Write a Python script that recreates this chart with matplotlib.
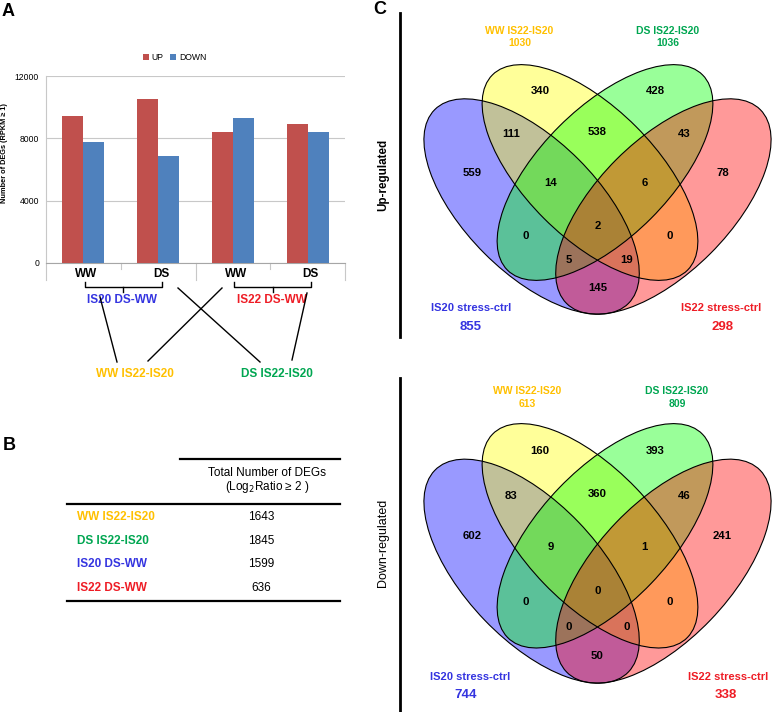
#Figure: DEG bar chart (A), DEG table (B) and up/down four-set Venn diagrams (C)
import numpy as np
import matplotlib
matplotlib.use("Agg")
import matplotlib.pyplot as plt
from matplotlib.patches import Ellipse
from matplotlib.transforms import blended_transform_factory

plt.rcParams['font.family'] = ['Liberation Sans', 'DejaVu Sans']

# ---- data ----
barLabels = ["WW", "DS", "WW", "DS"]
upDegs = [9450, 10500, 8400, 8950]
downDegs = [7750, 6850, 9300, 8400]
contrastNames = ["IS20 DS-WW", "IS22 DS-WW"]

tableNames = ["WW IS22-IS20", "DS IS22-IS20", "IS20 DS-WW", "IS22 DS-WW"]
tableValues = [1643, 1845, 1599, 636]

vennSets = ["IS20 stress-ctrl", "WW IS22-IS20", "DS IS22-IS20", "IS22 stress-ctrl"]
upTotals = [855, 1030, 1036, 298]
downTotals = [744, 613, 809, 338]
# region order: Y, G, BY, YG, GP, B, BYG, YGP, P, BYGP, BG, YP, BGP, BYP, BP
upRegions = [340, 428, 111, 538, 43, 559, 14, 6, 78, 2, 0, 0, 5, 19, 145]
downRegions = [160, 393, 83, 360, 46, 602, 9, 1, 241, 0, 0, 0, 0, 0, 50]

# ---- colours ----
RED = "#C0504D"
BLUE = "#4F81BD"
GOLD = "#FFC000"
GREEN = "#00A651"
NAVY = "#3434E0"
CRIMSON = "#EE1C25"
nameColors = {"WW IS22-IS20": GOLD, "DS IS22-IS20": GREEN,
              "IS20 DS-WW": NAVY, "IS22 DS-WW": CRIMSON,
              "IS20 stress-ctrl": NAVY, "IS22 stress-ctrl": CRIMSON}

W, H = 778, 712
fig = plt.figure(figsize=(W / 100, H / 100), dpi=100)


def box(x0, y0, x1, y1):
    """pixel box (top-left origin) -> figure fraction rect"""
    return [x0 / W, 1 - y1 / H, (x1 - x0) / W, (y1 - y0) / H]


# ---- panel A: bars ----
ax = fig.add_axes(box(46, 76, 345, 263))
x = np.arange(len(barLabels))
ax.bar(x - 0.14, upDegs, 0.28, color=RED, label="UP", zorder=3)
ax.bar(x + 0.14, downDegs, 0.28, color=BLUE, label="DOWN", zorder=3)
ax.set_xlim(-0.5, 3.5)
ax.set_ylim(0, 12000)
ax.set_yticks([0, 4000, 8000, 12000])
ax.yaxis.grid(True, color="#C8C8C8", lw=0.8)
ax.set_axisbelow(True)
ax.tick_params(axis='y', length=0, labelsize=6.2, pad=5)
ax.set_xticks([])
for s in ["top", "right"]:
    ax.spines[s].set_visible(False)
ax.spines["left"].set_color("#C8C8C8")
ax.spines["bottom"].set_color("#A6A6A6")
# y label sits a bit above the axes centre, as in the original
ax.text(-(46 - 4.5) / 299, (263 - 153.5) / 187, "Number of DEGs (RPKM ≥ 1)",
        transform=ax.transAxes, rotation=90, ha="center", va="center",
        fontsize=5.3, fontweight="bold")
ax.legend(loc="center", bbox_to_anchor=(0.43, 1.10), ncol=2, frameon=False,
          fontsize=6.2, handlelength=0.7, handleheight=0.7,
          handletextpad=0.3, columnspacing=0.8)

trans = blended_transform_factory(ax.transData, ax.transAxes)
for xb in [-0.5, 1.5, 3.5]:
    ax.plot([xb, xb], [0, -0.09], color="#C8C8C8", lw=0.8, transform=trans, clip_on=False)
for xb in [0.5, 2.5]:
    ax.plot([xb, xb], [0, -0.03], color="#C8C8C8", lw=0.8, transform=trans, clip_on=False)
for i, lab in enumerate(barLabels):
    ax.text(i + 0.04, -0.06, lab, transform=trans, ha="center", va="center",
            fontsize=8.5, fontweight="bold")
for g, name in zip([0, 2], contrastNames):
    ax.plot([g + 0.02, g + 0.02, g + 1.05, g + 1.05], [-0.10, -0.128, -0.128, -0.10],
            color="black", lw=1, transform=trans, clip_on=False)
    ax.plot([g + 0.535, g + 0.535], [-0.128, -0.155], color="black", lw=1,
            transform=trans, clip_on=False)
    ax.text(g + 0.52, -0.2, name, transform=trans, ha="center", va="center",
            fontsize=8.5, fontweight="bold", color=nameColors[name])


# ---- panel C: venn diagrams ----
def drawVenn(vax, regions, totals, labelPos):
    ellipses = [((-65.9, 141.5), 274, 133, 45, "blue"),
                ((-7.5, 107.5), 276, 130, 45, "yellow"),
                ((7.5, 107.5), 276, 130, -45, "lime"),
                ((65.9, 141.5), 274, 133, -45, "red")]
    for c, w, h, ang, col in ellipses:
        vax.add_patch(Ellipse(c, w, h, angle=ang, facecolor=col, alpha=0.4, lw=0))
    for c, w, h, ang, col in ellipses:
        vax.add_patch(Ellipse(c, w, h, angle=ang, facecolor="none", edgecolor="black", lw=0.8))
    regionXY = [(-57.5, 26), (57.5, 26), (-86.5, 69), (0, 67), (86.5, 69),
                (-125, 108), (-47, 118), (47, 118), (125, 108), (0, 161),
                (-72, 171), (72, 171), (-29, 195), (29, 195), (0, 223)]
    for (rx, ry), n in zip(regionXY, regions):
        vax.text(rx, ry, str(n), ha="center", va="center", fontsize=8.2, fontweight="bold")
    for name, total in zip(vennSets, totals):
        (nx, ny), (tx, ty) = labelPos[name]
        big = name.endswith("ctrl")
        vax.text(nx, ny, name, ha="center", va="center", fontsize=8 if big else 7.5,
                 fontweight="bold", color=nameColors[name])
        vax.text(tx, ty, str(total), ha="center", va="center", fontsize=9.5 if big else 7.5,
                 fontweight="bold", color=nameColors[name])
    vax.axis("off")


vUp = fig.add_axes(box(405, 0, 778, 340))
vUp.set_xlim(-192.5, 180.5)
vUp.set_ylim(275, -65)
drawVenn(vUp, upRegions, upTotals,
         {"WW IS22-IS20": ((-78, -34), (-78, -22)),
          "DS IS22-IS20": ((70.5, -34), (70.5, -22)),
          "IS20 stress-ctrl": ((-126, 243), (-126.5, 262)),
          "IS22 stress-ctrl": ((123.5, 243), (124.5, 262))})

vDown = fig.add_axes(box(405, 370, 778, 712))
vDown.set_xlim(-192.5, 180.5)
vDown.set_ylim((712 - 424) / 1.04, (370 - 424) / 1.04)
drawVenn(vDown, downRegions, downTotals,
         {"WW IS22-IS20": ((-70.5, -31.7), (-70.5, -19.2)),
          "DS IS22-IS20": ((79.5, -31.7), (79.5, -19.2)),
          "IS20 stress-ctrl": ((-127.5, 243.3), (-132, 260.6)),
          "IS22 stress-ctrl": ((130.5, 243.3), (128.5, 260.6))})

# ---- overlay: letters, connectors, table, side labels ----
ov = fig.add_axes([0, 0, 1, 1])
ov.set_xlim(0, W)
ov.set_ylim(H, 0)
ov.axis("off")

ov.text(2, 12, "A", fontsize=13, fontweight="bold", va="center")
ov.text(3, 445, "B", fontsize=13, fontweight="bold", va="center")
ov.text(373, 9, "C", fontsize=13, fontweight="bold", va="center")

for (x0, y0), (x1, y1) in [((100, 297), (117, 362)), ((222, 288), (148, 361)),
                           ((178, 288), (260, 362)), ((307, 293), (292, 360))]:
    ov.plot([x0, x1], [y0, y1], color="black", lw=1)
ov.text(135, 374, "WW IS22-IS20", ha="center", va="center", fontsize=8.5,
        fontweight="bold", color=GOLD)
ov.text(277, 374, "DS IS22-IS20", ha="center", va="center", fontsize=8.5,
        fontweight="bold", color=GREEN)

# table
ov.plot([180, 340], [459, 459], color="black", lw=1.6)
ov.text(267, 473, "Total Number of DEGs", ha="center", va="center", fontsize=8.5)
ov.text(267, 487, "(Log$_2$Ratio ≥ 2 )", ha="center", va="center", fontsize=8.5)
ov.plot([67, 340], [504, 504], color="black", lw=1.6)
for i, (name, val) in enumerate(zip(tableNames, tableValues)):
    y = 517 + i * 23.7
    ov.text(77, y, name, ha="left", va="center", fontsize=8.5, fontweight="bold",
            color=nameColors[name])
    ov.text(261, y, str(val), ha="center", va="center", fontsize=8.5)
ov.plot([67, 340], [601, 601], color="black", lw=1.6)

# panel C side labels
ov.plot([400, 400], [13, 337], color="black", lw=2)
ov.plot([400, 400], [378, 712], color="black", lw=2)
ov.text(383, 175, "Up-regulated", rotation=90, ha="center", va="center",
        fontsize=8.4, fontweight="bold")
ov.text(383, 543, "Down-regulated", rotation=90, ha="center", va="center", fontsize=9)

fig.savefig("out.png", dpi=100)
